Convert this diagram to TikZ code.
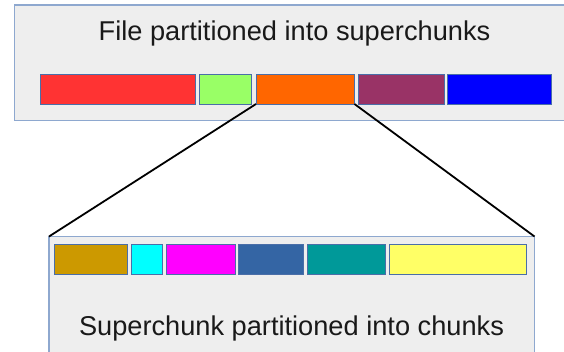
\documentclass[tikz,border=0pt]{standalone}
\usepackage{fontspec}
\setmainfont{Liberation Sans}
\definecolor{panelfill}{HTML}{EEEEEE}
\definecolor{panelline}{HTML}{8EA8CF}
\definecolor{barline}{HTML}{4A6EA8}
\tikzset{
  panel/.style={draw=panelline, fill=panelfill, line width=1.6pt},
  seg/.style={draw=barline, line width=1pt},
  link/.style={draw=black, line width=1.8pt},
  caption/.style={font=\fontsize{27.2}{32}\selectfont, text=black!90}
}
\begin{document}
\begin{tikzpicture}[x=1pt,y=-1pt]
\useasboundingbox (0,0) rectangle (564,351);
\clip (0,0) rectangle (564,351);
% top panel
\draw[panel] (14.5,5) rectangle (580,120.5);
\node[caption] (t1) at (294.5,33.5) {File partitioned into superchunks};
\draw[seg, fill={rgb,255:red,255;green,51;blue,51}] (40.5,74) rectangle (195,104);
\draw[seg, fill={rgb,255:red,153;green,255;blue,102}] (199,74) rectangle (251.5,104);
\draw[seg, fill={rgb,255:red,255;green,102;blue,0}] (256,74) rectangle (354.5,104);
\draw[seg, fill={rgb,255:red,153;green,51;blue,102}] (358,74) rectangle (444.5,104);
\draw[seg, fill={rgb,255:red,0;green,0;blue,255}] (447.5,74) rectangle (551.5,104);
\coordinate (oL) at (256,104);
\coordinate (oR) at (354.5,104);
% bottom panel
\draw[panel] (49,236.5) rectangle (534.5,400);
\coordinate (bL) at (49,236.5);
\coordinate (bR) at (534.5,236.5);
\draw[seg, fill={rgb,255:red,204;green,153;blue,0}] (54.5,244) rectangle (127.5,274);
\draw[seg, fill={rgb,255:red,0;green,255;blue,255}] (131.5,244) rectangle (162,274);
\draw[seg, fill={rgb,255:red,255;green,0;blue,255}] (166,244) rectangle (235,274);
\draw[seg, fill={rgb,255:red,52;green,101;blue,164}] (238.5,244) rectangle (303.5,274);
\draw[seg, fill={rgb,255:red,0;green,153;blue,153}] (307,244) rectangle (385,274);
\draw[seg, fill={rgb,255:red,255;green,255;blue,102}] (389,244) rectangle (526.5,274);
\node[caption] (t2) at (291.5,328.5) {Superchunk partitioned into chunks};
% connectors
\draw[link] (oL) -- (bL);
\draw[link] (oR) -- (bR);
\end{tikzpicture}
\end{document}
